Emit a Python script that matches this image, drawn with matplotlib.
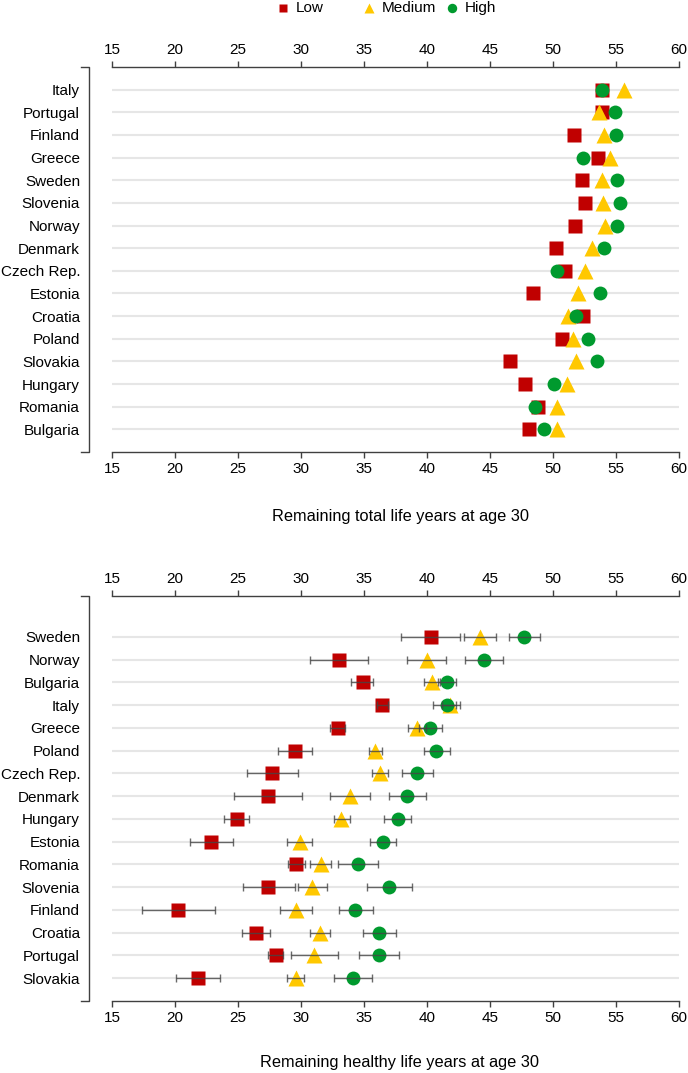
import numpy as np
import matplotlib
matplotlib.use('Agg')
from matplotlib import pyplot as plt
from matplotlib.lines import Line2D

plt.rcParams['font.family'] = ['Liberation Sans', 'DejaVu Sans']

# top panel: remaining total life years at age 30
countries_total = ['Italy', 'Portugal', 'Finland', 'Greece', 'Sweden', 'Slovenia', 'Norway', 'Denmark',
                   'Czech Rep.', 'Estonia', 'Croatia', 'Poland', 'Slovakia', 'Hungary', 'Romania', 'Bulgaria']
low_total = [53.85, 53.9, 51.65, 53.6, 52.3, 52.5, 51.75, 50.2, 50.95, 48.45, 52.4, 50.7, 46.6, 47.75, 48.8, 48.1]
med_total = [55.6, 53.65, 54.05, 54.5, 53.9, 54.0, 54.1, 53.1, 52.5, 52.0, 51.2, 51.6, 51.8, 51.1, 50.35, 50.3]
high_total = [53.85, 54.9, 55.0, 52.4, 55.1, 55.3, 55.1, 54.05, 50.3, 53.7, 51.8, 52.8, 53.5, 50.1, 48.6, 49.3]

# bottom panel: remaining healthy life years at age 30, with intervals
countries_hly = ['Sweden', 'Norway', 'Bulgaria', 'Italy', 'Greece', 'Poland', 'Czech Rep.', 'Denmark',
                 'Hungary', 'Estonia', 'Romania', 'Slovenia', 'Finland', 'Croatia', 'Portugal', 'Slovakia']
low_hly = [40.3, 33.0, 34.9, 36.4, 32.9, 29.5, 27.7, 27.4, 24.9, 22.85, 29.6, 27.4, 20.25, 26.4, 28.0, 21.8]
low_lo = [37.95, 30.7, 34.0, 36.0, 32.3, 28.2, 25.7, 24.7, 23.85, 21.2, 28.95, 25.4, 17.4, 25.3, 27.4, 20.1]
low_hi = [42.65, 35.3, 35.7, 36.9, 33.5, 30.9, 29.8, 30.1, 25.9, 24.6, 30.3, 29.5, 23.2, 27.5, 28.6, 23.6]
med_hly = [44.2, 40.0, 40.4, 41.8, 39.2, 35.9, 36.25, 33.9, 33.2, 29.9, 31.6, 30.9, 29.6, 31.5, 31.0, 29.6]
med_lo = [42.9, 38.4, 39.8, 41.2, 38.5, 35.4, 35.6, 32.3, 32.6, 28.9, 30.7, 29.8, 28.3, 30.7, 29.2, 28.9]
med_hi = [45.5, 41.5, 41.0, 42.3, 39.9, 36.4, 36.9, 35.5, 33.9, 30.85, 32.4, 32.1, 30.9, 32.3, 32.9, 30.2]
high_hly = [47.7, 44.5, 41.6, 41.55, 40.2, 40.7, 39.2, 38.45, 37.7, 36.5, 34.5, 37.0, 34.3, 36.2, 36.2, 34.1]
high_lo = [46.5, 43.0, 40.9, 40.5, 39.4, 39.75, 38.0, 37.0, 36.6, 35.5, 32.9, 35.2, 33.0, 34.9, 34.6, 32.6]
high_hi = [48.95, 46.0, 42.3, 42.6, 41.2, 41.8, 40.5, 39.9, 38.7, 37.5, 36.1, 38.8, 35.7, 37.5, 37.8, 35.6]

xticks = [15, 20, 25, 30, 35, 40, 45, 50, 55, 60]

red = '#C00000'
yellow = '#FFC800'
green = '#009A2E'
axcol = '#404040'

styles = [('Low', 's', red, 9.5), ('Medium', '^', yellow, 11), ('High', 'o', green, 10)]


def setup(ax, names, ytop):
    n = len(names)
    rows = np.arange(n, 0, -1)
    ax.set_xlim(15, 60)
    ax.set_ylim(0, ytop)
    for y in rows:
        ax.axhline(y, color='#E6E6E6', lw=1.5, zorder=0)
    ax.set_yticks(rows)
    ax.set_yticklabels(names, fontsize=11)
    ax.tick_params(axis='y', length=0, pad=23)
    ax.set_xticks(xticks)
    ax.tick_params(axis='x', top=True, labeltop=True, bottom=True, labelbottom=True,
                   length=4, width=1, color=axcol, labelsize=11, pad=3)
    for s in ['left', 'right']:
        ax.spines[s].set_visible(False)
    for s in ['top', 'bottom']:
        ax.spines[s].set_color(axcol)
        ax.spines[s].set_linewidth(1)
    # left bracket
    ax.plot([-0.055, -0.04, -0.04, -0.055], [1, 1, 0, 0], transform=ax.transAxes,
            clip_on=False, color=axcol, lw=1)
    return rows


fig = plt.figure(figsize=(6.88, 10.73), dpi=100)
ax1 = fig.add_axes([112 / 688, 1 - 452 / 1073, 567 / 688, 385 / 1073])
ax2 = fig.add_axes([112 / 688, 1 - 1001 / 1073, 567 / 688, 405 / 1073])

rows = setup(ax1, countries_total, 17)
for (lab, m, c, ms), vals, z in zip(styles, [low_total, med_total, high_total], [3, 4, 5]):
    ax1.plot(vals, rows, m, color=c, ms=ms, mec='none', zorder=z, clip_on=False)

rows = setup(ax2, countries_hly, 17.8)
groups = [(low_hly, low_lo, low_hi), (med_hly, med_lo, med_hi), (high_hly, high_lo, high_hi)]
for (lab, m, c, ms), (v, lo, hi), z in zip(styles, groups, [3, 4, 5]):
    v = np.array(v)
    err = [v - np.array(lo), np.array(hi) - v]
    ax2.plot(v, rows, m, color=c, ms=ms, mec='none', zorder=z)
    ax2.errorbar(v, rows, xerr=err, fmt='none', ecolor='#454545', elinewidth=1,
                 capsize=3, capthick=1, alpha=0.8, zorder=6)

fig.text(400 / 688, 1 - 517 / 1073, 'Remaining total life years at age 30',
         ha='center', va='center', fontsize=11.8)
fig.text(400 / 688, 1 - 1062 / 1073, 'Remaining healthy life years at age 30',
         ha='center', va='center', fontsize=11.8)

# legend on top, columns evenly spaced like the original
leg_x = [283, 369, 452]
for (lab, m, c, ms), lx in zip(styles, leg_x):
    fig.add_artist(Line2D([lx / 688], [1 - 8 / 1073], marker=m, color=c, ms=ms * 0.68,
                          mec='none', ls='none', transform=fig.transFigure))
    fig.text((lx + 13) / 688, 1 - 8 / 1073, lab, ha='left', va='center', fontsize=11)

fig.savefig('out.png', dpi=100)
